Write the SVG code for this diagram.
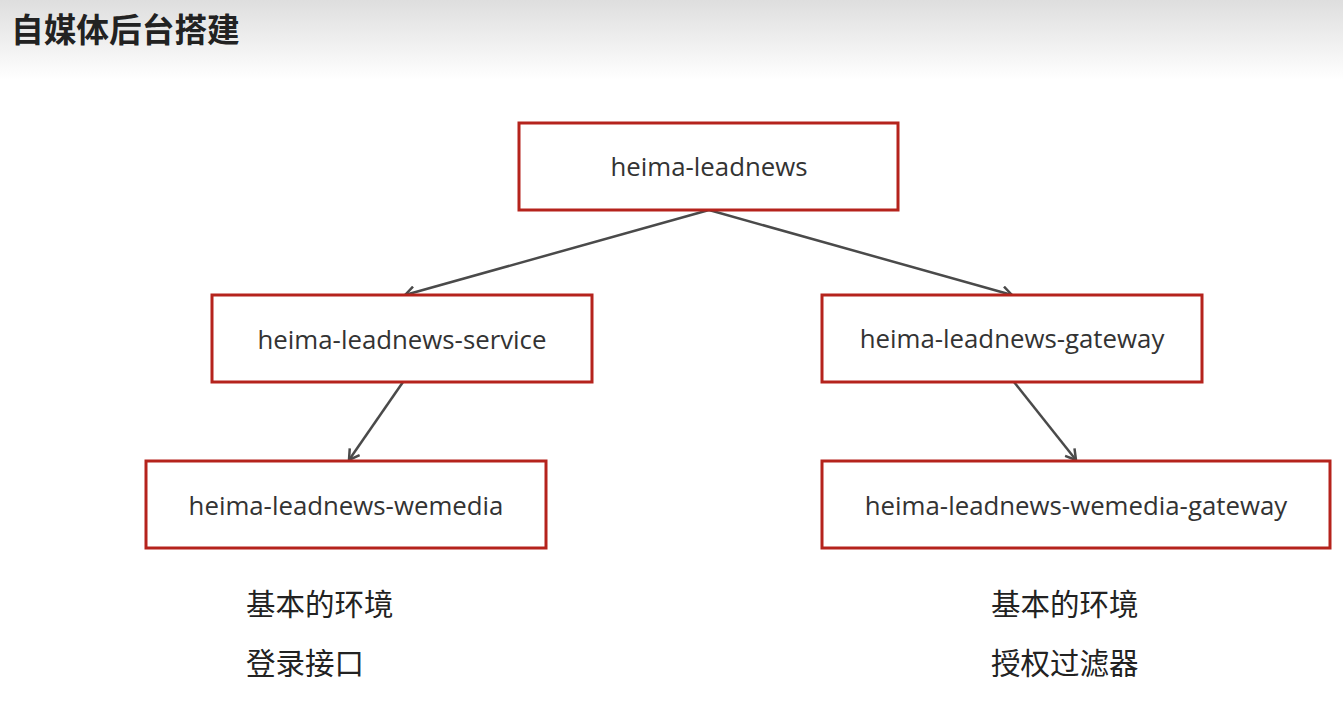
<svg xmlns="http://www.w3.org/2000/svg" width="1343" height="716" viewBox="0 0 1343 716">
<defs>
<linearGradient id="hdr" x1="0" y1="0" x2="0" y2="1">
<stop offset="0" stop-color="#dedede"/>
<stop offset="1" stop-color="#ffffff"/>
</linearGradient>
<marker id="arr" markerWidth="14" markerHeight="14" refX="12" refY="7" orient="auto" markerUnits="userSpaceOnUse">
<path d="M2,1 L12,7 L2,13" fill="none" stroke="#4a4a4a" stroke-width="2.5"/>
</marker>
<style>
.box{fill:#fff;stroke:#b5231c;stroke-width:3}
.lbl{font-family:"Open Sans","Noto Sans",sans-serif;font-size:25.8px;fill:#333;text-anchor:middle}
.cn{font-family:"Noto Sans CJK SC",sans-serif;font-size:29.5px;fill:#222}
.ln{stroke:#4a4a4a;stroke-width:2.5;fill:none}
</style>
</defs>
<rect x="0" y="0" width="1343" height="80" fill="url(#hdr)"/>
<rect x="0" y="80" width="1343" height="636" fill="#fff"/>
<text x="11" y="42" font-family="Noto Sans CJK SC,sans-serif" font-size="32.7" font-weight="bold" fill="#222">自媒体后台搭建</text>
<g id="connectors">
<line class="ln" x1="709" y1="210" x2="405" y2="295" marker-end="url(#arr)"/>
<line class="ln" x1="709" y1="210" x2="1012" y2="295" marker-end="url(#arr)"/>
<line class="ln" x1="403" y1="382" x2="349" y2="460" marker-end="url(#arr)"/>
<line class="ln" x1="1014" y1="382" x2="1076" y2="460" marker-end="url(#arr)"/>
</g>
<g id="n-root"><rect class="box" x="519" y="123" width="379" height="87"/><text class="lbl" x="709" y="176">heima-leadnews</text></g>
<g id="n-service"><rect class="box" x="212" y="295" width="380" height="87"/><text class="lbl" x="402" y="349">heima-leadnews-service</text></g>
<g id="n-gateway"><rect class="box" x="822" y="295" width="380" height="87"/><text class="lbl" x="1012" y="348">heima-leadnews-gateway</text></g>
<g id="n-wemedia"><rect class="box" x="146" y="461" width="400" height="87"/><text class="lbl" x="346" y="515">heima-leadnews-wemedia</text></g>
<g id="n-wgateway"><rect class="box" x="822" y="461" width="508" height="87"/><text class="lbl" x="1076" y="515">heima-leadnews-wemedia-gateway</text></g>
<g id="notes-left"><text class="cn" x="246" y="615">基本的环境</text><text class="cn" x="246" y="674">登录接口</text></g>
<g id="notes-right"><text class="cn" x="991" y="615">基本的环境</text><text class="cn" x="991" y="674">授权过滤器</text></g>
</svg>
